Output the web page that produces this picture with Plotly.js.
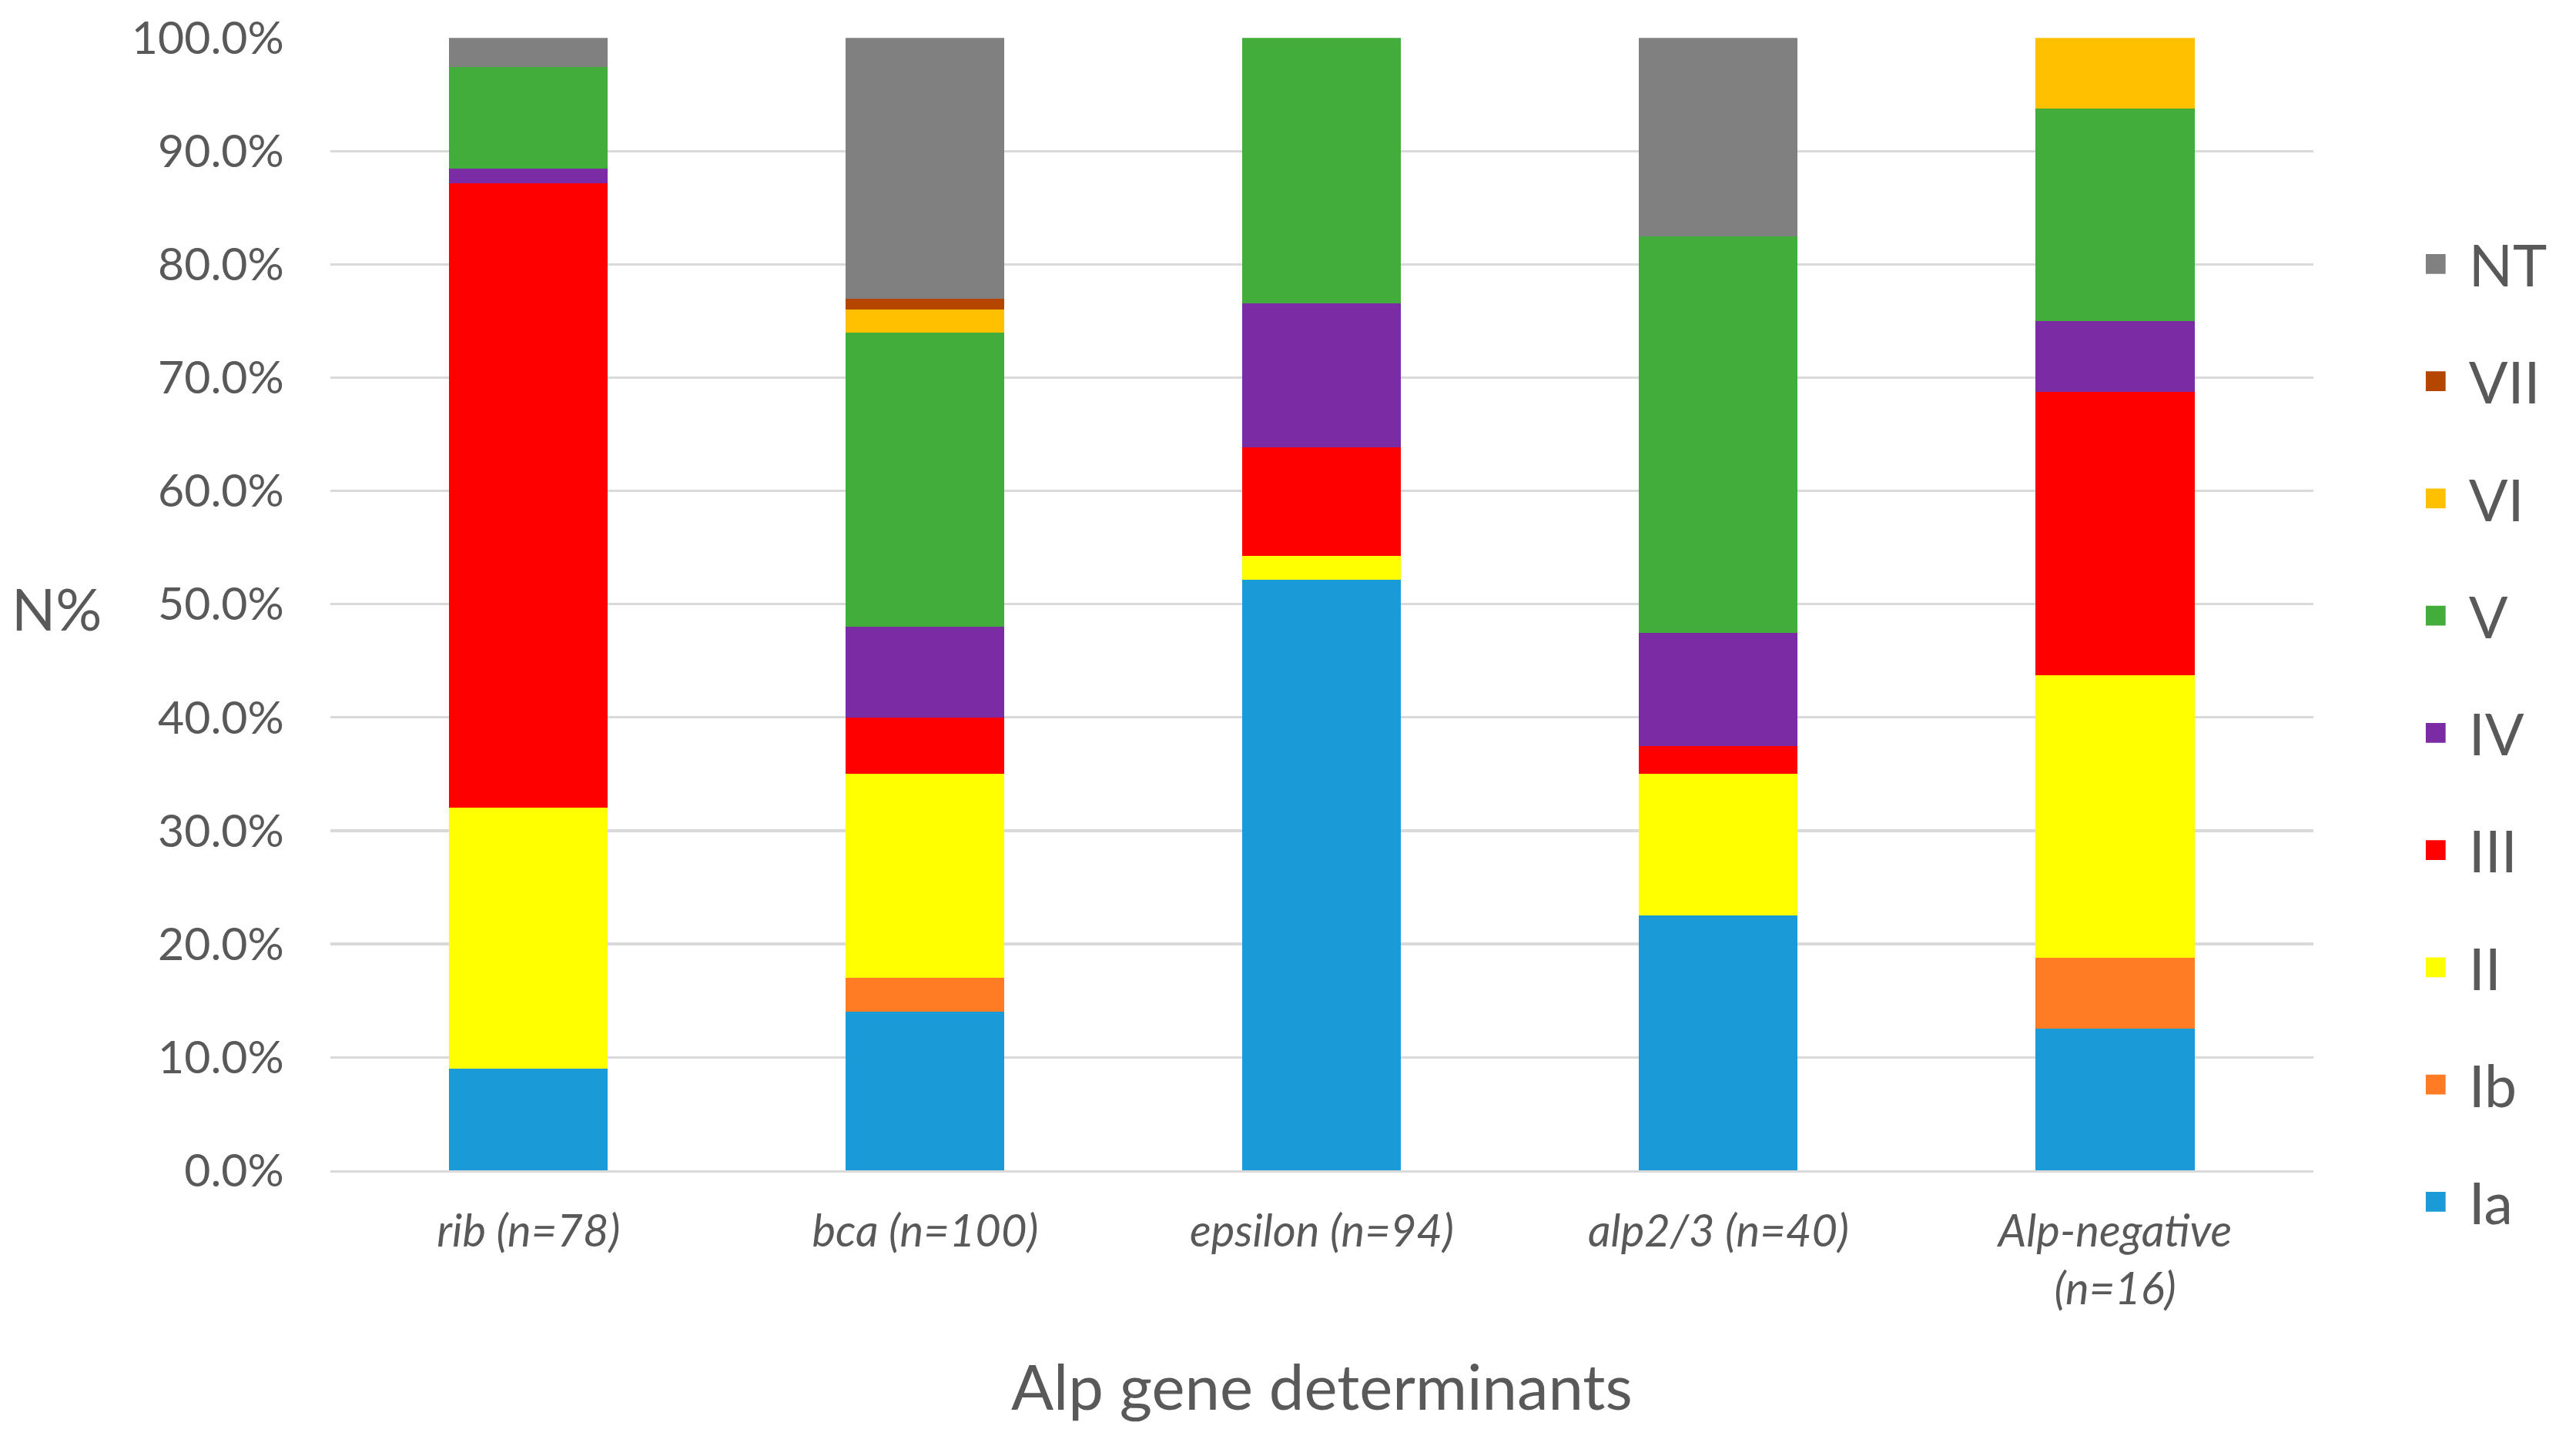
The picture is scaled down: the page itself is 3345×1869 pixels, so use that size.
<!DOCTYPE html>
<html>
<head>
<meta charset="utf-8">
<script src="https://cdn.plot.ly/plotly-3.0.1.min.js"></script>
<style>
  html, body { margin: 0; padding: 0; background: #fff; }
  #wrap { width: 3345px; height: 1869px; position: relative; overflow: hidden; }
  #chart { position: absolute; left: 0; top: 0; width: 1560px; height: 871px;
           transform: scale(2.1442); transform-origin: 0 0; }
</style>
</head>
<body>
<div id="wrap"><div id="chart"></div></div>
<script>
// categories (x) and serotype shares in % per category
var genes = ['rib (n=78)', 'bca (n=100)', 'epsilon (n=94)', 'alp2/3 (n=40)', 'Alp-negative<br>(n=16)'];

var Ia  = [8.97, 14, 52.13, 22.5, 12.5];
var Ib  = [0, 3, 0, 0, 6.25];
var II  = [23.08, 18, 2.13, 12.5, 25];
var III = [55.13, 5, 9.57, 2.5, 25];
var IV  = [1.28, 8, 12.77, 10, 6.25];
var V   = [8.97, 26, 23.40, 35, 18.75];
var VI  = [0, 2, 0, 0, 6.25];
var VII = [0, 1, 0, 0, 0];
var NT  = [2.56, 23, 0, 17.5, 0];

var names  = ['Ia', 'Ib', 'II', 'III', 'IV', 'V', 'VI', 'VII', 'NT'];
var series = [Ia, Ib, II, III, IV, V, VI, VII, NT];
var colors = ['#1a9ad6', '#ff7c24', '#ffff00', '#ff0000', '#7b2ba4', '#42ad3a', '#ffc000', '#b44600', '#808080'];

var textGray = '#595959';

var data = [];
for (var i = 0; i < names.length; i++) {
  data.push({
    type: 'bar',
    name: names[i],
    legendgroup: names[i],
    legendrank: 100 - i,   // NT on top of the legend, Ia at the bottom
    x: genes,
    y: series[i],
    marker: {color: colors[i], line: {width: 0}}
  });
}

var layout = {
  width: 1560,
  height: 871,
  barmode: 'stack',
  bargap: 0.6,
  paper_bgcolor: '#fff',
  plot_bgcolor: '#fff',
  margin: {l: 200, r: 150, t: 23, b: 162},
  font: {family: 'Lato, "Open Sans", sans-serif', color: textGray},
  xaxis: {
    tickfont: {size: 27, style: 'italic', color: textGray},
    ticks: '',
    ticklabelstandoff: 12,
    showline: true,
    linecolor: '#d9d9d9',
    linewidth: 1.5,
    title: {text: 'Alp gene determinants', font: {size: 38, color: textGray}, standoff: 32},
    automargin: false
  },
  yaxis: {
    range: [0, 100],
    dtick: 10,
    tickformat: '.1f',
    ticksuffix: '%',
    tickfont: {size: 27.5, color: textGray},
    ticks: '',
    ticklabelstandoff: 27,
    gridcolor: '#d9d9d9',
    gridwidth: 1.5,
    zeroline: false,
    automargin: false
  },
  legend: {
    x: 1.045,
    xanchor: 'left',
    y: 0.386,
    yanchor: 'middle',
    traceorder: 'grouped',
    tracegroupgap: 22.5,
    font: {size: 35, color: textGray},
    bgcolor: 'rgba(0,0,0,0)'
  },
  annotations: [{
    text: 'N%',
    xref: 'paper', yref: 'paper',
    x: -0.138, y: 0.497,
    xanchor: 'center', yanchor: 'middle',
    showarrow: false,
    font: {size: 35, color: textGray}
  }]
};

Plotly.newPlot('chart', data, layout, {displayModeBar: false, staticPlot: true});
</script>
</body>
</html>
